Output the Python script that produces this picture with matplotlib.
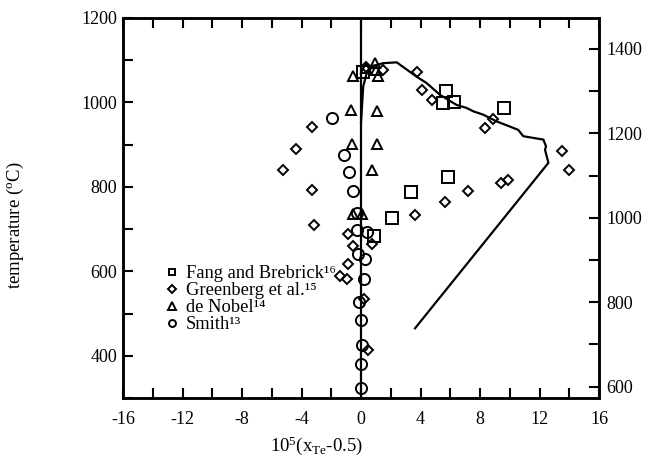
import matplotlib
matplotlib.use("Agg")
import matplotlib.pyplot as plt
from matplotlib.ticker import MultipleLocator
from matplotlib.lines import Line2D

plt.rcParams['font.family'] = ['Liberation Serif', 'DejaVu Serif']
plt.rcParams['mathtext.fontset'] = 'custom'
plt.rcParams['mathtext.rm'] = 'Liberation Serif'
plt.rcParams['mathtext.it'] = 'Liberation Serif:italic'

# ---- data ----
fang_x = [5.71, 5.53, 6.25, 9.61, 5.83, 3.34, 2.06, 0.87, 0.15]
fang_y = [1026, 998, 1002, 988, 823, 787, 727, 683, 1072]

greenberg_x = [-5.26, -4.35, -3.29, -3.31, -3.14, -0.85, -1.41, -0.92, -0.52, -0.85,
               0.72, 0.22, 0.49, 3.74, 4.12, 4.79, 8.34, 8.9, 13.49, 14.0,
               9.39, 9.9, 7.21, 5.65, 3.63, 1.5, 0.35]
greenberg_y = [839, 890, 941, 792, 709, 618, 589, 581, 660, 688,
               664, 535, 414, 1073, 1030, 1006, 939, 961, 886, 839,
               810, 817, 790, 765, 733, 1078, 1083]

denobel_x = [-0.56, 0.31, 0.94, 1.12, 1.0, -0.67, 1.08, -0.63, 1.08, 0.72, -0.52, 0.05]
denobel_y = [1063, 1081, 1094, 1063, 1076, 983, 979, 902, 902, 839, 735, 735]

smith_x = [-1.93, -1.14, -0.79, -0.56, -0.29, -0.25, 0.42, -0.18, 0.27, 0.2,
           -0.11, -0.02, 0.04, 0.0, 0.0]
smith_y = [963, 876, 835, 790, 739, 699, 693, 642, 630, 583,
           527, 485, 425, 380, 323]

curve_x = [0, 0.15, 0.38, 0.83, 1.5, 2.4, 3.74, 4.41, 5.31, 6.43, 7.1, 7.55, 8.22,
           9.12, 10.0, 10.57, 10.91, 11.58, 12.26, 12.44, 12.37, 12.6, 3.63]
curve_y = [952, 1038, 1069, 1087, 1093, 1095, 1061, 1046, 1018, 994, 987, 979, 971,
           955, 943, 935, 920, 916, 912, 896, 888, 857, 465]

labels = ["Fang and Brebrick\u00b9\u2076", "Greenberg et al.\u00b9\u2075",
          "de Nobel\u00b9\u2074", "Smith\u00b9\u00b3"]

x_ticks = [-16, -12, -8, -4, 0, 4, 8, 12, 16]
y_ticks = [400, 600, 800, 1000, 1200]
k_ticks = [600, 800, 1000, 1200, 1400]

# ---- figure ----
fig = plt.figure(figsize=(6.45, 4.62), dpi=100)
ax = fig.add_axes([123/645, 1-398/462, 476/645, 380/462])

ax.axvline(0, color='black', lw=1.6, zorder=2)
ax.plot(curve_x, curve_y, color='black', lw=1.6, zorder=2)

mk = dict(linestyle='none', markerfacecolor='none', markeredgecolor='black',
          markeredgewidth=1.4, zorder=3)
ax.plot(fang_x, fang_y, marker='s', markersize=8, **mk)
ax.plot(greenberg_x, greenberg_y, marker='D', markersize=5.5, **mk)
ax.plot(denobel_x, denobel_y, marker='^', markersize=7.5, **mk)
ax.plot(smith_x, smith_y, marker='o', markersize=8, **mk)

ax.set_xlim(-16, 16)
ax.set_ylim(300, 1200)
ax.set_xticks(x_ticks)
ax.set_xticklabels([str(t) for t in x_ticks])
ax.xaxis.set_minor_locator(MultipleLocator(2))
ax.set_yticks(y_ticks)
ax.yaxis.set_minor_locator(MultipleLocator(100))
ax.tick_params(axis='x', which='both', direction='in', top=True, bottom=True,
               length=7, width=1.5, labelsize=13, pad=9)
ax.tick_params(axis='y', which='both', direction='in', left=True, right=False,
               length=7, width=1.5, labelsize=13, pad=4)
for s in ax.spines.values():
    s.set_linewidth(1.8)

ax.set_xlabel(r"10$^{5}$(x$_{\rm Te}$-0.5)", fontsize=13.5)
ax.xaxis.set_label_coords((317 - 123) / 476, -(434 - 398) / 380)
ax.set_ylabel(r"temperature ($^{\rm o}$C)", fontsize=13.5)
ax.yaxis.set_label_coords((26 - 123) / 476, (398 - 225) / 380)

ax2 = ax.twinx()
ax2.set_ylim(300 + 273.15, 1200 + 273.15)
ax2.set_yticks(k_ticks)
ax2.yaxis.set_minor_locator(MultipleLocator(100))
ax2.tick_params(axis='y', which='both', direction='in', length=7, width=1.5,
                labelsize=13, pad=5)
for s in ax2.spines.values():
    s.set_linewidth(1.8)

handles = [
    Line2D([], [], marker='s', markersize=5, **mk),
    Line2D([], [], marker='D', markersize=4, **mk),
    Line2D([], [], marker='^', markersize=6, **mk),
    Line2D([], [], marker='o', markersize=5, **mk),
]
ax.legend(handles, labels, loc='upper left', bbox_to_anchor=(0.072, 0.374),
          frameon=False, fontsize=13.3, handlelength=0.6, handletextpad=0.45,
          labelspacing=0.0, borderpad=0)

fig.savefig("out.png", dpi=100)
